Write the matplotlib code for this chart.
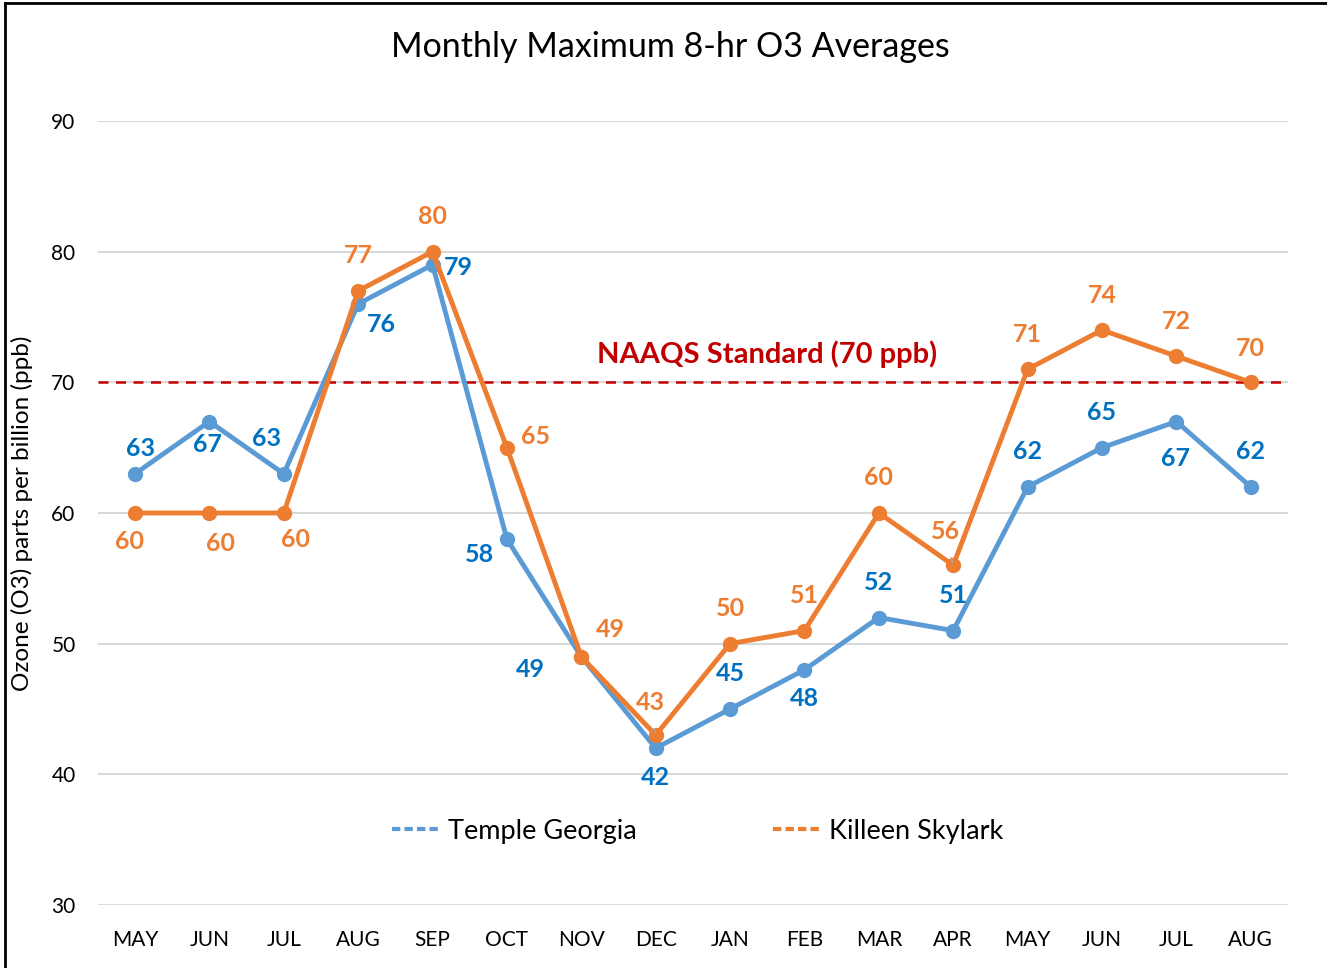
import matplotlib.pyplot as plt
from matplotlib.lines import Line2D

months = ['MAY', 'JUN', 'JUL', 'AUG', 'SEP', 'OCT', 'NOV', 'DEC',
          'JAN', 'FEB', 'MAR', 'APR', 'MAY', 'JUN', 'JUL', 'AUG']
temple = [63, 67, 63, 76, 79, 58, 49, 42, 45, 48, 52, 51, 62, 65, 67, 62]
killeen = [60, 60, 60, 77, 80, 65, 49, 43, 50, 51, 60, 56, 71, 74, 72, 70]
naaqs = 70

# label offsets in pixels (dx, dy), y upward
temple_off = [(6, 25), (-2, -23), (-17, 35), (23, -21), (26, -3), (-27, -15),
              (-51, -13), (0, -29), (0, 35), (0, -29), (0, 35), (0, 35),
              (0, 35), (0, 35), (-1, -37), (0, 35)]
killeen_off = [(-5, -29), (11, -31), (12, -27), (0, 35), (0, 35), (29, 11),
               (29, 27), (-5, 33), (0, 35), (0, 35), (0, 35), (-8, 34),
               (0, 35), (0, 35), (0, 35), (0, 34)]

plt.rcParams['font.family'] = ['Lato', 'DejaVu Sans']

blue, blue_txt = '#5B9BD5', '#0070C0'
orange = '#ED7D31'
red = '#C00000'

fig = plt.figure(figsize=(13.27, 9.68), dpi=100)
ax = fig.add_axes([0.0737, 0.0651, 0.8969, 0.8099])
x = list(range(len(months)))

ax.plot(x, temple, color=blue, lw=3.5, marker='o', ms=10, label='Temple Georgia', zorder=3)
ax.plot(x, killeen, color=orange, lw=3.5, marker='o', ms=10, label='Killeen Skylark', zorder=4)
ax.axhline(naaqs, color=red, lw=1.8, ls=(0, (4, 3)), zorder=2)
ax.text(8.5, naaqs + 1.1, 'NAAQS Standard (70 ppb)', color=red, fontsize=21,
        fontweight='bold', ha='center', va='bottom')

for i, v in enumerate(temple):
    ax.annotate(str(v), (i, v), xytext=temple_off[i], textcoords='offset pixels',
                ha='center', va='center', color=blue_txt, fontsize=18, fontweight='bold', zorder=5)
for i, v in enumerate(killeen):
    arrow = None
    if i in (7, 11):
        arrow = dict(arrowstyle='-', color='#A6A6A6', lw=1.2, shrinkA=9, shrinkB=2)
    ax.annotate(str(v), (i, v), xytext=killeen_off[i], textcoords='offset pixels',
                ha='center', va='center', color=orange, fontsize=18, fontweight='bold',
                arrowprops=arrow, zorder=5)

ax.set_xlim(-0.5, len(months) - 0.5)
ax.set_ylim(30, 90)
ax.set_yticks(range(30, 91, 10))
ax.set_xticks(x)
ax.set_xticklabels(months)
ax.tick_params(length=0, labelsize=15)
ax.tick_params(axis='x', pad=18)
ax.tick_params(axis='y', pad=16)
ax.grid(axis='y', color='#D9D9D9', lw=1.5)
ax.set_axisbelow(True)
for s in ax.spines.values():
    s.set_visible(False)

ax.set_ylabel('Ozone (O3) parts per billion (ppb)', fontsize=17.5)
ax.yaxis.set_label_coords(-0.0545, 0.5)
fig.text(0.505, 0.951, 'Monthly Maximum 8-hr O3 Averages', fontsize=24.5, ha='center', va='center')

handles = [Line2D([], [], color=blue, lw=3, ls=(0, (2, 1))),
           Line2D([], [], color=orange, lw=3, ls=(0, (2, 1)))]
leg = ax.legend(handles, ['Temple Georgia', 'Killeen Skylark'], ncol=2, frameon=False,
                fontsize=19.5, loc='center', bbox_to_anchor=(0.504, 0.094),
                handlelength=1.8, columnspacing=5.0, handletextpad=0.3)

fig.add_artist(Line2D([0.004, 0.004], [0, 0.997], color='black', lw=2, transform=fig.transFigure))
fig.add_artist(Line2D([0.004, 1], [0.997, 0.997], color='black', lw=2, transform=fig.transFigure))

fig.savefig('out.png', dpi=100)
